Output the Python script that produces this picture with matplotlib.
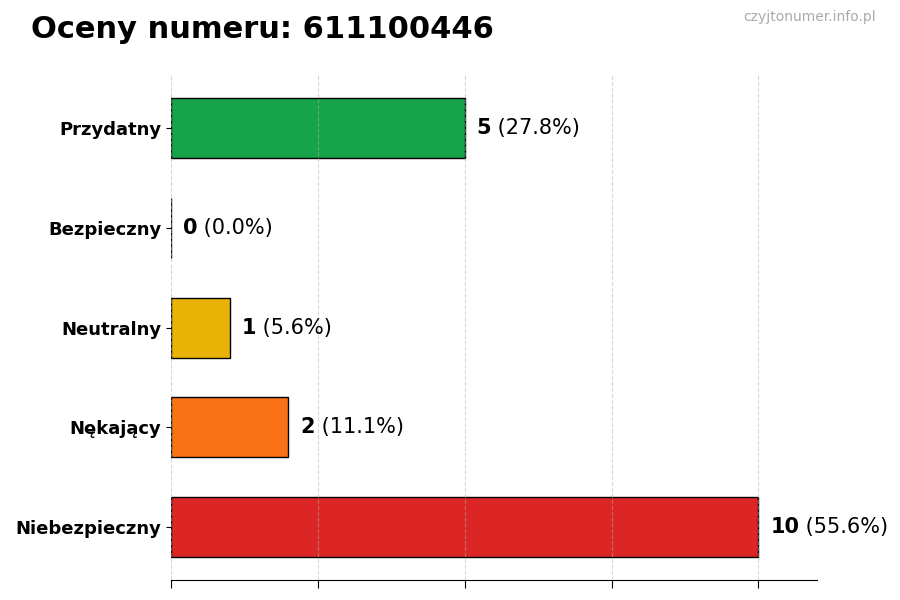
import matplotlib
matplotlib.use("Agg")
import matplotlib.pyplot as plt

categories = ["Przydatny", "Bezpieczny", "Neutralny", "Nękający", "Niebezpieczny"]
counts = [5, 0, 1, 2, 10]
percents = [27.8, 0.0, 5.6, 11.1, 55.6]
colors = ["#16a34a", "#2563eb", "#eab308", "#f97316", "#dc2626"]
title = "Oceny numeru: 611100446"
watermark = "czyjtonumer.info.pl"

fig = plt.figure(figsize=(9, 6), dpi=100)
ax = fig.add_axes([0.19, 0.033, 0.718, 0.842])

ypos = list(range(len(categories)))[::-1]
ax.barh(ypos, counts, height=0.6, color=colors, edgecolor="black", linewidth=1, zorder=1)
ax.set_yticks(ypos)
ax.set_yticklabels(categories, fontsize=13, fontweight="bold")
ax.set_xlim(0, 11)
ax.set_xticks([0, 2.5, 5, 7.5, 10])
ax.set_xticklabels([])
ax.grid(axis="x", linestyle="--", color="#b0b0b0", alpha=0.5, linewidth=0.8, zorder=3)
ax.set_axisbelow(False)
for s in ["top", "right", "left"]:
    ax.spines[s].set_visible(False)
ax.tick_params(axis="x", length=6)

for y, c, p in zip(ypos, counts, percents):
    t = ax.text(c + 0.2, y, str(c), fontsize=15, fontweight="bold", va="center", ha="left", zorder=5)
    ax.annotate(f" ({p:.1f}%)", xy=(1, 0), xycoords=t, va="bottom", ha="left", fontsize=15, zorder=5)

fig.text(0.034, 0.95, title, fontsize=22, fontweight="bold", va="center", ha="left")
fig.text(0.973, 0.972, watermark, fontsize=10, color="#aaaaaa", va="center", ha="right")

fig.savefig("out.png", dpi=100)
